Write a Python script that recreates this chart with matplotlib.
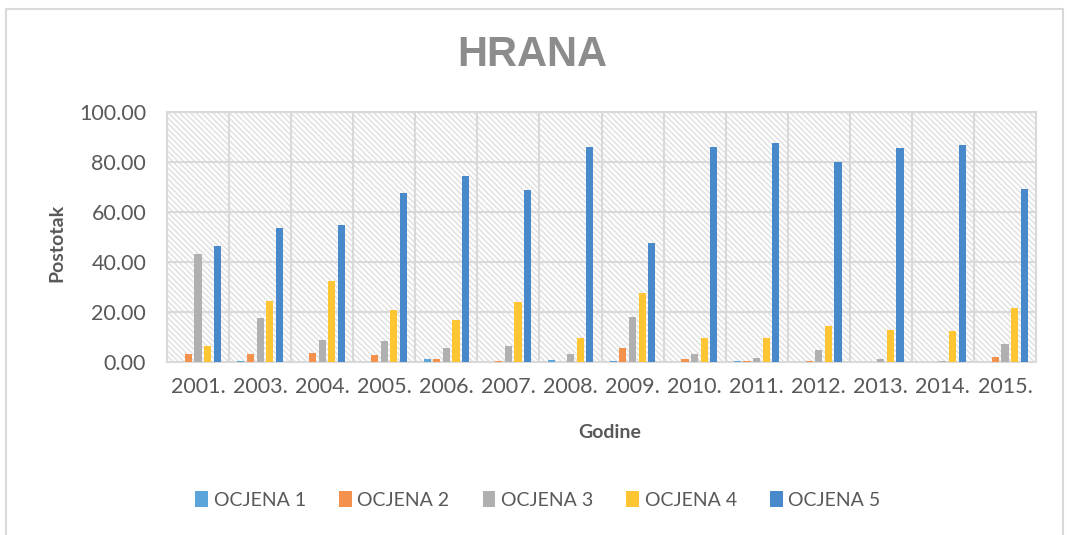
import matplotlib
matplotlib.use("Agg")
import matplotlib.pyplot as plt
import numpy as np
from matplotlib.patches import Rectangle

years = ["2001.", "2003.", "2004.", "2005.", "2006.", "2007.", "2008.",
         "2009.", "2010.", "2011.", "2012.", "2013.", "2014.", "2015."]
series_names = ["OCJENA 1", "OCJENA 2", "OCJENA 3", "OCJENA 4", "OCJENA 5"]
ocjena1 = [0.0, 0.5, 0.0, 0.0, 1.2, 0.0, 0.8, 0.4, 0.0, 0.3, 0.0, 0.0, 0.0, 0.0]
ocjena2 = [3.2, 3.1, 3.5, 2.7, 1.2, 0.4, 0.0, 5.6, 1.2, 0.3, 0.3, 0.0, 0.0, 1.9]
ocjena3 = [43.2, 17.7, 8.8, 8.4, 5.7, 6.4, 3.3, 18.1, 3.2, 1.6, 4.8, 1.2, 0.4, 7.3]
ocjena4 = [6.4, 24.4, 32.4, 20.8, 16.8, 24.0, 9.6, 27.7, 9.7, 9.7, 14.5, 12.9, 12.5, 21.6]
ocjena5 = [46.5, 53.6, 54.8, 67.6, 74.4, 68.8, 86.0, 47.7, 85.9, 87.5, 79.9, 85.7, 86.8, 69.1]
all_series = [ocjena1, ocjena2, ocjena3, ocjena4, ocjena5]
colors = ["#5BA5DB", "#F4914D", "#B0B0B0", "#FFC533", "#4889CB"]

plt.rcParams['font.family'] = ['Lato', 'DejaVu Sans']
plt.rcParams['hatch.linewidth'] = 1.2

fig = plt.figure(figsize=(10.67, 5.35), dpi=100)
W, H = 1067, 535
# outer chart frame
fig.patches.append(Rectangle((6 / W, -0.01), (1063 - 6) / W, (535 - 9) / H + 0.01,
                             transform=fig.transFigure, fill=False,
                             edgecolor="#d9d9d9", linewidth=1.5))

left, right, top, bottom = 167, 1036, 112, 362
ax = fig.add_axes([left / W, 1 - bottom / H, (right - left) / W, (bottom - top) / H])

n = len(years)
x = np.arange(n)
spacing = 0.155
bw = 0.115
for i, (vals, c, name) in enumerate(zip(all_series, colors, series_names)):
    ax.bar(x + (i - 2) * spacing, vals, width=bw, color=c, label=name, zorder=3)

ax.set_xlim(-0.5, n - 0.5)
ax.set_ylim(0, 100)
ax.set_yticks(np.arange(0, 101, 20))
ax.set_yticklabels([f"{v:.2f}" for v in np.arange(0, 101, 20)])
ax.set_xticks(x)
ax.set_xticklabels(years)

# hatched background
ax.add_patch(Rectangle((0, 0), 1, 1, transform=ax.transAxes, facecolor="white",
                       edgecolor="#e3e3e3", hatch="\\\\\\\\\\\\", linewidth=0, zorder=0))

# grid lines
for yv in np.arange(20, 101, 20):
    ax.axhline(yv, color="#d9d9d9", linewidth=1.5, zorder=1)
for xv in np.arange(0.5, n - 0.5, 1):
    ax.axvline(xv, color="#d9d9d9", linewidth=1.5, zorder=1)

for s in ["top", "right", "left", "bottom"]:
    ax.spines[s].set_visible(True)
    ax.spines[s].set_color("#d9d9d9")
    ax.spines[s].set_linewidth(1.5)

ax.tick_params(axis="both", length=0, labelsize=15.5, colors="#595959")
ax.tick_params(axis="y", pad=15)
ax.tick_params(axis="x", pad=11)

ax.set_ylabel("Postotak", fontsize=14, fontweight="bold", color="#595959", labelpad=12)
ax.set_xlabel("Godine", fontsize=14, fontweight="bold", color="#595959", labelpad=14)
ax.yaxis.set_label_coords(57 / W, 1 - 243 / H, transform=fig.transFigure)
ax.xaxis.set_label_coords(610 / W, 1 - 432 / H, transform=fig.transFigure)
ax.yaxis.label.set_va("center")
ax.xaxis.label.set_va("center")

fig.text(532 / W, 1 - 55 / H, "HRANA", ha="center", va="center", fontsize=30,
         fontweight="bold", color="#8c8c8c",
         family=["Liberation Sans Narrow", "Liberation Sans", "DejaVu Sans"])

leg = ax.legend(loc="center", bbox_to_anchor=(538 / W, 1 - 500 / H),
                bbox_transform=fig.transFigure, ncol=5, frameon=False,
                fontsize=14, handlelength=0.65, handleheight=0.9,
                handletextpad=0.3, columnspacing=1.7)
for t in leg.get_texts():
    t.set_color("#595959")

fig.savefig("out.png", dpi=100)
